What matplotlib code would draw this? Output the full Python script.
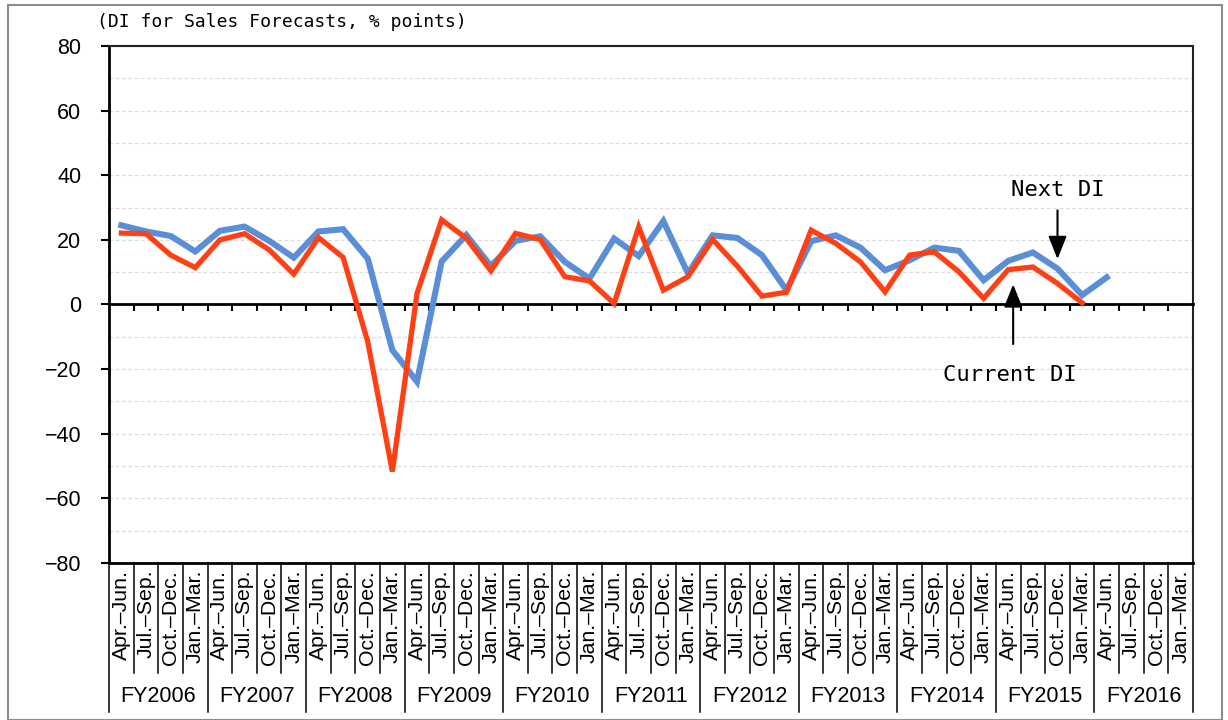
import matplotlib
matplotlib.use('Agg')
import matplotlib.pyplot as plt
import matplotlib.transforms as mtransforms
from matplotlib.patches import Rectangle
import numpy as np

# quarterly DI values (% points), FY2006 Apr.-Jun. onwards
next_di = [24.5, 22.6, 21.2, 16.4, 22.8, 24.1, 19.7, 14.5, 22.6, 23.3,
           14.2, -14.1, -23.9, 13.3, 21.5, 11.9, 19.7, 21.1, 13.2, 8.0,
           20.4, 15.0, 25.8, 9.6, 21.4, 20.6, 15.3, 4.4, 19.6, 21.4,
           17.6, 10.6, 13.7, 17.6, 16.6, 7.5, 13.5, 16.1, 11.1, 2.9, 8.4]
current_di = [22.1, 21.9, 15.3, 11.4, 20.0, 21.9, 16.9, 9.4, 20.7, 14.6,
              -11.5, -51.7, 3.4, 26.2, 20.5, 10.4, 22.0, 20.1, 8.6, 7.3,
              0.3, 24.0, 4.4, 8.6, 20.1, 11.9, 2.6, 3.8, 23.0, 18.9,
              13.2, 3.9, 15.3, 16.3, 10.1, 1.9, 10.8, 11.6, 6.5, 0.5]
quarters = ['Apr.\u2013Jun.', 'Jul.\u2013Sep.', 'Oct.\u2013Dec.', 'Jan.\u2013Mar.']
years = ['FY2006', 'FY2007', 'FY2008', 'FY2009', 'FY2010', 'FY2011',
         'FY2012', 'FY2013', 'FY2014', 'FY2015', 'FY2016']
yticks = [-80, -60, -40, -20, 0, 20, 40, 60, 80]

n_cat = len(years) * len(quarters)
cat_labels = quarters * len(years)

fig = plt.figure(figsize=(12.28, 7.2), dpi=100)
ax = fig.add_axes([0.0888, 0.2181, 0.8827, 0.718])

ax.plot(range(len(next_di)), next_di, color='#5A8ED6', lw=4.4, zorder=3,
        solid_joinstyle='miter')
ax.plot(range(len(current_di)), current_di, color='#FF4014', lw=3.8, zorder=4,
        solid_joinstyle='miter')

ax.set_xlim(-0.5, n_cat - 0.5)
ax.set_ylim(-80, 80)
ax.set_yticks(yticks)
ax.set_yticks(np.arange(-80, 81, 10), minor=True)
ax.set_yticklabels([str(v).replace('-', '\u2212') for v in yticks],
                   family='Liberation Sans', fontsize=15.5)
ax.tick_params(axis='y', which='major', length=6, width=1.5, pad=14)
ax.tick_params(axis='y', which='minor', length=0)
ax.grid(True, axis='y', which='both', color='#DCDCDC', lw=0.9, ls=(0, (3, 2)))

# x axis sits on the zero line with small ticks between the quarters
ax.spines['bottom'].set_position(('data', 0))
ax.spines['bottom'].set_linewidth(2)
ax.set_xticks(np.arange(0.5, n_cat - 0.5, 1))
ax.set_xticklabels([])
ax.tick_params(axis='x', direction='out', length=5, width=1.5)
ax.spines['left'].set_linewidth(2)
ax.spines['top'].set_linewidth(1.5)
ax.spines['right'].set_linewidth(1.5)
ax.spines['top'].set_color('#222222')
ax.spines['right'].set_color('#222222')
ax.axhline(-80, color='k', lw=2, clip_on=False, zorder=5)

# category labels below the plot
trans = mtransforms.blended_transform_factory(ax.transData, ax.transAxes)
for i, lab in enumerate(cat_labels):
    ax.text(i, -0.0135, lab, transform=trans, rotation=90, ha='center', va='top',
            family='Liberation Sans', fontsize=15.3)
for j, yr in enumerate(years):
    ax.text(j * 4 + 1.5, -0.259, yr, transform=trans, ha='center', va='center',
            family='Liberation Sans', fontsize=15.5)
for k in range(n_cat + 1):
    bottom = -0.288 if k % 4 == 0 else -0.2128
    ax.plot([k - 0.5, k - 0.5], [0, bottom], transform=trans, color='k',
            lw=1.1, clip_on=False)

# annotations
ax.annotate('', xy=(38, 13.2), xytext=(38, 30),
            arrowprops=dict(arrowstyle='-|>,head_length=1.0,head_width=0.4',
                            color='k', lw=1.5, mutation_scale=14))
ax.text(38, 35.4, 'Next DI', ha='center', va='center',
        family='DejaVu Sans Mono', fontsize=16)
ax.annotate('', xy=(36.2, 7.1), xytext=(36.2, -13.1),
            arrowprops=dict(arrowstyle='-|>,head_length=1.0,head_width=0.4',
                            color='k', lw=1.5, mutation_scale=14))
ax.text(36.07, -21.8, 'Current DI', ha='center', va='center',
        family='DejaVu Sans Mono', fontsize=16)

fig.text(97 / 1228, 1 - 22 / 720, '(DI for Sales Forecasts, % points)',
         ha='left', va='center', family='DejaVu Sans Mono', fontsize=13)

# outer frame of the chart
fig.patches.append(Rectangle((8 / 1228, 0), 1214 / 1228, 1 - 5 / 720,
                             transform=fig.transFigure, fill=False,
                             edgecolor='#8C8C8C', lw=1.5))

fig.savefig('out.png', dpi=100)
